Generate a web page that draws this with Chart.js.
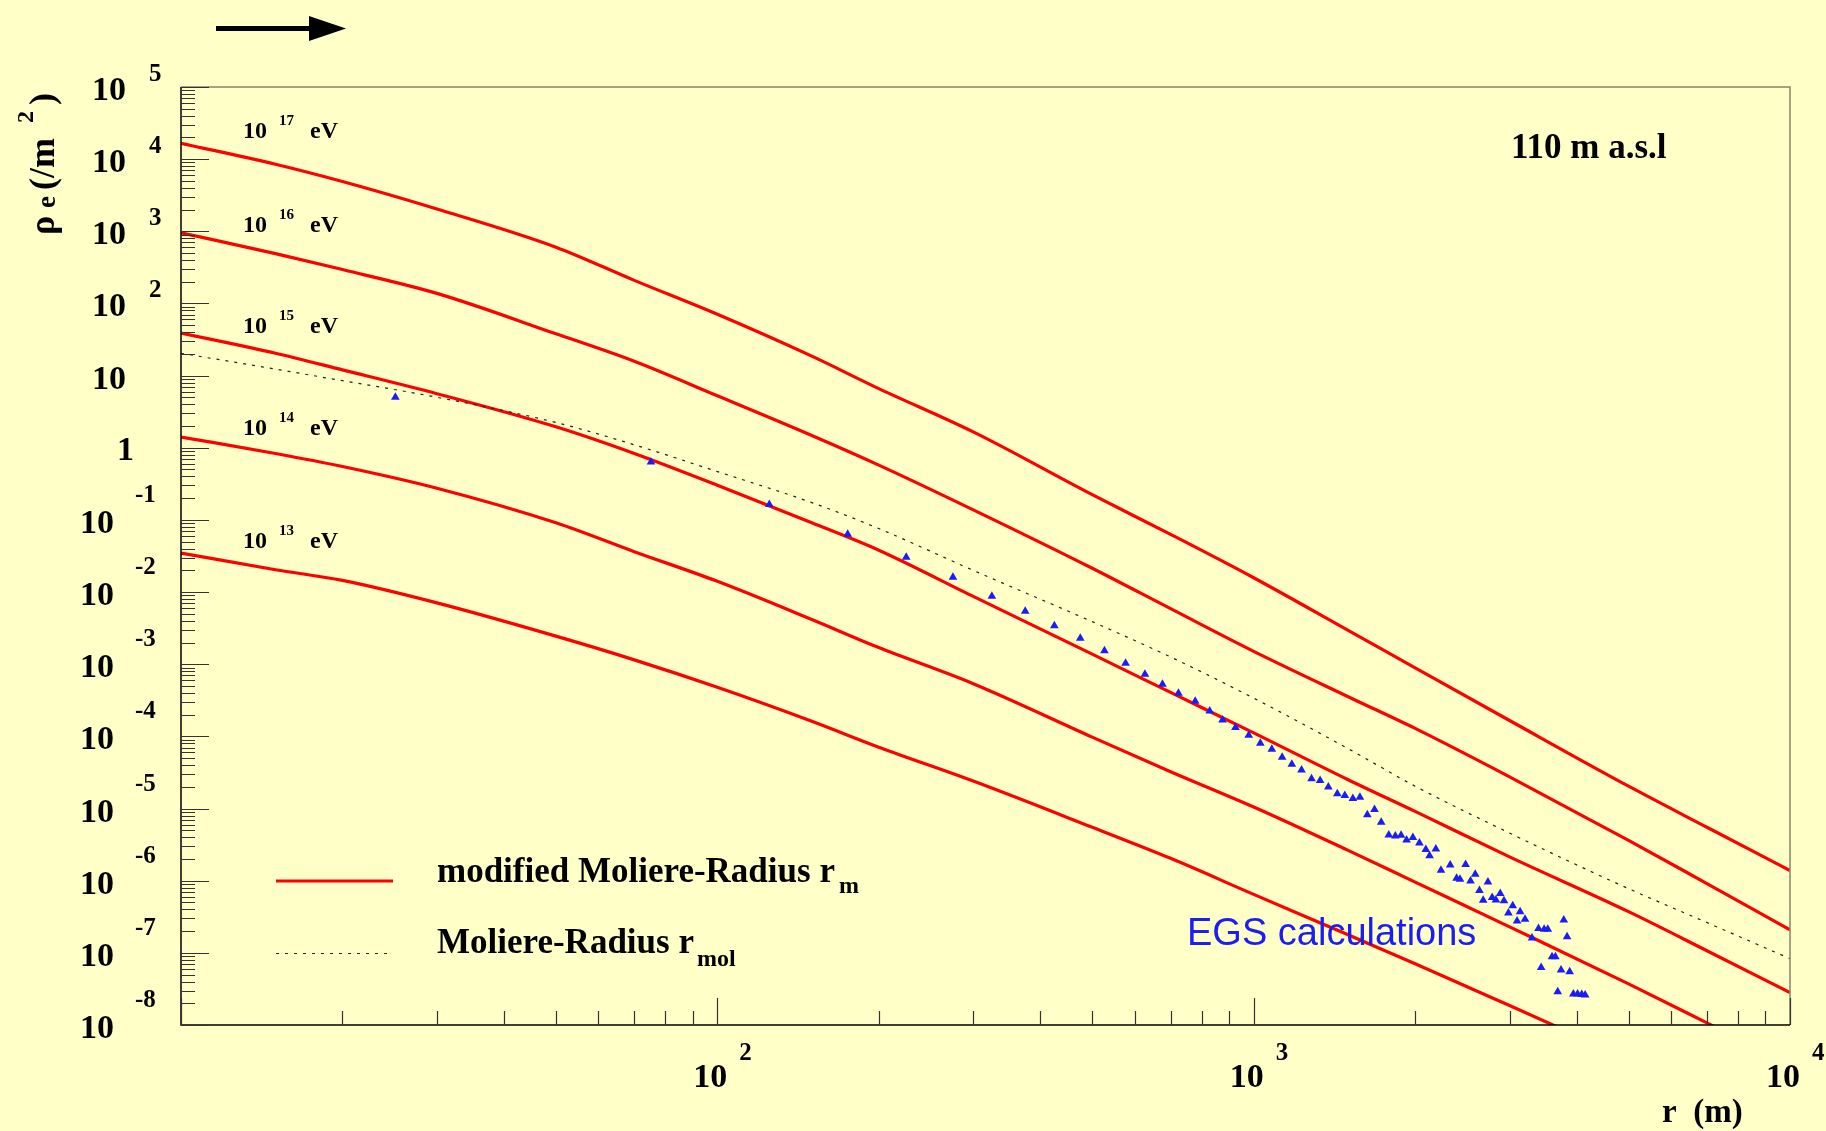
<!DOCTYPE html>
<html>
<head>
<meta charset="utf-8">
<script src="https://cdn.jsdelivr.net/npm/chart.js@4.4.1/dist/chart.umd.min.js"></script>
<style>
  html, body { margin: 0; background: #ffffc8; }
  #wrap { width: 1826px; height: 1131px; }
</style>
</head>
<body>
<div id="wrap"><canvas id="ldf" width="1826" height="1131"></canvas></div>
<script>
// core distance r (m) at which the lateral distributions are tabulated
const radii = [10, 15, 20, 30, 50, 70, 100, 150, 200, 300, 500, 700, 1000, 1500, 2000, 3000, 5000, 7000, 10000];

// electron density (/m^2), modified Moliere radius r_m, per primary energy
const rho17 = [1.66e4, 8.51e3, 4.90e3, 2.04e3, 603, 209, 70.8, 18.6, 6.61, 1.66, 0.224, 0.0631, 0.0158, 2.95e-3, 8.91e-4, 1.66e-4, 2.04e-5, 5.50e-6, 1.38e-6];
const rho16 = [955, 490, 295, 138, 38.0, 15.8, 5.25, 1.48, 0.575, 0.138, 0.0214, 5.89e-3, 1.51e-3, 3.55e-4, 1.29e-4, 2.75e-5, 3.63e-6, 9.12e-7, 2.09e-7];
const rho15 = [38.9, 20.4, 12.0, 5.62, 1.95, 0.832, 0.302, 0.0912, 0.0380, 8.71e-3, 1.38e-3, 4.07e-4, 1.12e-4, 2.51e-5, 9.12e-6, 2.14e-6, 3.72e-7, 1.07e-7, 2.82e-8];
const rho14 = [1.41, 0.832, 0.550, 0.275, 0.0912, 0.0363, 0.0141, 4.17e-3, 1.70e-3, 5.37e-4, 9.77e-5, 3.24e-5, 1.05e-5, 2.63e-6, 9.55e-7, 2.29e-7, 3.72e-8, 1.07e-8, 2.82e-9];
const rho13 = [0.0347, 0.0204, 0.0145, 7.08e-3, 2.45e-3, 1.15e-3, 4.79e-4, 1.62e-4, 7.08e-5, 2.40e-5, 5.50e-6, 2.04e-6, 6.46e-7, 1.78e-7, 7.08e-8, 1.86e-8, 3.39e-9];

// 10^15 eV with the standard Moliere radius r_mol
const rhoMol15 = [20.4, 12.3, 8.51, 5.01, 2.24, 1.10, 0.468, 0.174, 0.0759, 0.0200, 3.89e-3, 1.26e-3, 3.39e-4, 6.76e-5, 2.04e-5, 4.57e-6, 7.76e-7, 2.63e-7, 8.32e-8];

// EGS simulation points
const egsR = [25.1, 75.2, 125, 175, 225, 275, 325, 375, 425, 475,
  527, 577, 627, 676, 724, 778, 828, 875, 925, 979,
  1029, 1081, 1130, 1178, 1228, 1282, 1330, 1378, 1432, 1479,
  1531, 1578, 1629, 1680, 1729, 1786, 1837, 1883, 1928, 1981,
  2037, 2094, 2128, 2186, 2235, 2325, 2390, 2425, 2484, 2537,
  2589, 2636, 2679, 2734, 2784, 2829, 2882, 2929, 2985, 3041,
  3098, 3139, 3206, 3304, 3397, 3480, 3535, 3786, 3840, 3600,
  3652, 3436, 3742, 3883, 3689, 3945, 4018, 4090, 4150];
const egsRho = [5.00, 0.634, 0.163, 0.0634, 0.0304, 0.0160, 8.73e-3, 5.41e-3, 3.42e-3, 2.29e-3,
  1.54e-3, 1.03e-3, 7.24e-4, 5.26e-4, 3.95e-4, 3.06e-4, 2.24e-4, 1.69e-4, 1.33e-4, 1.04e-4,
  8.04e-5, 6.64e-5, 5.14e-5, 4.11e-5, 3.42e-5, 2.58e-5, 2.44e-5, 1.99e-5, 1.60e-5, 1.51e-5,
  1.38e-5, 1.43e-5, 8.18e-6, 9.68e-6, 6.46e-6, 4.30e-6, 4.16e-6, 4.26e-6, 3.66e-6, 3.96e-6,
  3.33e-6, 2.70e-6, 2.21e-6, 2.76e-6, 1.39e-6, 1.65e-6, 1.08e-6, 1.05e-6, 1.67e-6, 9.89e-7,
  1.23e-6, 7.29e-7, 5.35e-7, 9.57e-7, 5.85e-7, 5.40e-7, 6.62e-7, 5.26e-7, 3.56e-7, 4.50e-7,
  2.76e-7, 3.72e-7, 2.91e-7, 1.60e-7, 2.18e-7, 2.12e-7, 2.12e-7, 2.85e-7, 1.67e-7, 8.83e-8,
  8.83e-8, 6.25e-8, 5.78e-8, 5.47e-8, 2.88e-8, 2.69e-8, 2.69e-8, 2.64e-8, 2.60e-8];

// axis decades that get a label
const yTickExponents = [5, 4, 3, 2, 1, 0, -1, -2, -3, -4, -5, -6, -7, -8];
const xTickExponents = [2, 3, 4];

// curve labels: exponent of the primary energy and baseline y of the text
const energyExponents = ['17', '16', '15', '14', '13'];
const energyBaselines = [138, 232, 333, 435, 548];

const BG = '#ffffc8';
const RED = '#ff0000';
const BLUE = '#1c1cf5';
const SERIF = '"Liberation Serif", "Times New Roman", serif';

function pts(xs, ys) {
  return ys.map((y, i) => ({x: xs[i], y}));
}

function redCurve(ys) {
  return {
    data: pts(radii, ys),
    borderColor: RED,
    borderWidth: 3.2,
    pointRadius: 0,
    cubicInterpolationMode: 'monotone',
    order: 2
  };
}

// ROOT-like frame, inward ticks and superscript labels
const rootFrame = {
  id: 'rootFrame',
  beforeDraw(chart) {
    const c = chart.ctx;
    c.save();
    c.fillStyle = BG;
    c.fillRect(0, 0, chart.width, chart.height);
    c.restore();
  },
  afterDraw(chart) {
    const c = chart.ctx;
    const {left, right, top, bottom} = chart.chartArea;
    const xs = chart.scales.x;
    const ys = chart.scales.y;
    c.save();

    // frame
    c.lineWidth = 1.5;
    c.strokeStyle = '#85856a';
    c.beginPath();
    c.moveTo(left, top); c.lineTo(right, top); c.lineTo(right, bottom);
    c.stroke();
    c.strokeStyle = '#000';
    c.beginPath();
    c.moveTo(left, top); c.lineTo(left, bottom); c.lineTo(right, bottom);
    c.stroke();

    // y ticks (inside, from the left axis)
    c.lineWidth = 1.2;
    c.strokeStyle = '#333';
    c.beginPath();
    for (let e = -8; e <= 5; e++) {
      for (let k = 1; k <= 9; k++) {
        if (e === 5 && k > 1) break;
        const py = Math.round(ys.getPixelForValue(k * Math.pow(10, e))) + 0.5;
        const len = k === 1 ? 28 : 14;
        c.moveTo(left, py); c.lineTo(left + len, py);
      }
    }
    // x ticks (inside, from the bottom axis)
    for (let e = 1; e <= 4; e++) {
      for (let k = 1; k <= 9; k++) {
        if (e === 4 && k > 1) break;
        const px = Math.round(xs.getPixelForValue(k * Math.pow(10, e))) + 0.5;
        const len = k === 1 ? 27 : 14;
        c.moveTo(px, bottom); c.lineTo(px, bottom - len);
      }
    }
    c.stroke();

    // y tick labels
    c.fillStyle = '#000';
    c.textBaseline = 'alphabetic';
    yTickExponents.forEach(e => {
      const py = ys.getPixelForValue(Math.pow(10, e));
      if (e === 0) {
        c.font = 'bold 34px ' + SERIF;
        c.textAlign = 'right';
        c.fillText('1', 134, py + 12);
        return;
      }
      const neg = e < 0;
      c.font = 'bold 34px ' + SERIF;
      c.textAlign = 'right';
      c.fillText('10', neg ? 114 : 126, py + 13);
      if (e === 1) return;
      c.font = 'bold 25px ' + SERIF;
      c.textAlign = 'left';
      c.fillText(String(e), neg ? 135 : 149, neg ? py - 18 : py - 6);
    });

    // x tick labels
    xTickExponents.forEach(e => {
      const px = xs.getPixelForValue(Math.pow(10, e));
      c.font = 'bold 34px ' + SERIF;
      c.textAlign = 'center';
      c.fillText('10', px - 7, 1087);
      c.font = 'bold 25px ' + SERIF;
      c.textAlign = 'left';
      c.fillText(String(e), px + 22, 1060);
    });

    // x axis title
    c.font = 'bold 33px ' + SERIF;
    c.textAlign = 'left';
    c.fillText('r  (m)', 1662, 1122);

    // y axis title, rotated
    c.save();
    c.translate(54, 235);
    c.rotate(-Math.PI / 2);
    c.textAlign = 'left';
    c.font = 'bold 36px ' + SERIF;
    c.fillText('\u03c1', 0, 0);
    c.font = 'bold 27px ' + SERIF;
    c.fillText('e', 27, 1);
    c.font = 'bold 36px ' + SERIF;
    c.fillText('(/m', 45, 0);
    c.font = 'bold 24px ' + SERIF;
    c.fillText('2', 112, -21);
    c.font = 'bold 36px ' + SERIF;
    c.fillText(')', 130, 0);
    c.restore();

    // energy labels next to the curves
    energyExponents.forEach((ex, i) => {
      const b = energyBaselines[i];
      c.font = 'bold 24px ' + SERIF;
      c.fillText('10', 243, b);
      c.font = 'bold 15px ' + SERIF;
      c.fillText(ex, 279, b - 13);
      c.font = 'bold 24px ' + SERIF;
      c.fillText('eV', 310, b);
    });

    // altitude
    c.font = 'bold 35px ' + SERIF;
    c.fillText('110 m a.s.l', 1511, 158);

    // EGS label
    c.font = '38px "Liberation Sans", Arial, sans-serif';
    c.fillStyle = BLUE;
    c.fillText('EGS calculations', 1187, 945);

    // legend
    c.strokeStyle = RED;
    c.lineWidth = 3.2;
    c.beginPath();
    c.moveTo(276, 881); c.lineTo(393, 881);
    c.stroke();
    c.strokeStyle = '#222';
    c.lineWidth = 1.2;
    c.setLineDash([3, 6]);
    c.beginPath();
    c.moveTo(276, 953.5); c.lineTo(393, 953.5);
    c.stroke();
    c.setLineDash([]);

    c.fillStyle = '#000';
    c.font = 'bold 35px ' + SERIF;
    const t1 = 'modified Moliere-Radius r';
    c.fillText(t1, 437, 882);
    const w1 = c.measureText(t1).width;
    const t2 = 'Moliere-Radius r';
    c.fillText(t2, 437, 953);
    const w2 = c.measureText(t2).width;
    c.font = 'bold 24px ' + SERIF;
    c.fillText('m', 437 + w1 + 4, 893);
    c.fillText('mol', 437 + w2 + 3, 966);

    // arrow above the frame
    c.fillStyle = '#000';
    c.fillRect(216, 26, 96, 5);
    c.beginPath();
    c.moveTo(309, 16); c.lineTo(346, 28.5); c.lineTo(309, 41); c.closePath();
    c.fill();

    c.restore();
  }
};

const ctx = document.getElementById('ldf').getContext('2d');
new Chart(ctx, {
  type: 'line',
  data: {
    datasets: [
      {
        data: pts(egsR, egsRho),
        showLine: false,
        pointStyle: 'triangle',
        pointRadius: 5,
        pointBackgroundColor: BLUE,
        pointBorderColor: BLUE,
        pointBorderWidth: 0,
        order: 0
      },
      {
        data: pts(radii, rhoMol15),
        borderColor: '#222',
        borderWidth: 1.2,
        borderDash: [3, 6],
        pointRadius: 0,
        cubicInterpolationMode: 'monotone',
        order: 1
      },
      redCurve(rho17),
      redCurve(rho16),
      redCurve(rho15),
      redCurve(rho14),
      redCurve(rho13)
    ]
  },
  options: {
    responsive: false,
    animation: false,
    layout: {padding: {left: 181, right: 36, top: 87, bottom: 106}},
    scales: {
      x: {type: 'logarithmic', min: 10, max: 10000, display: false},
      y: {type: 'logarithmic', min: 1e-8, max: 1e5, display: false}
    },
    plugins: {
      legend: {display: false},
      tooltip: {enabled: false}
    }
  },
  plugins: [rootFrame]
});
</script>
</body>
</html>
